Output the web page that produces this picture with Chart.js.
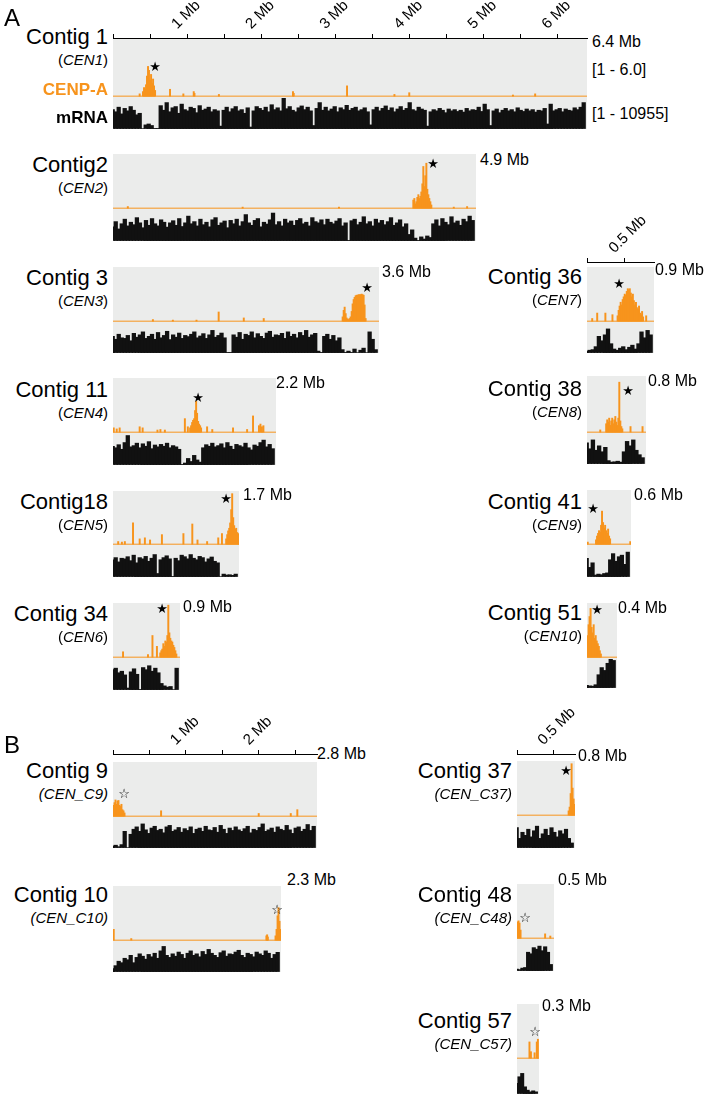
<!DOCTYPE html>
<html><head><meta charset="utf-8">
<script src="https://cdn.jsdelivr.net/npm/chart.js@4.4.0/dist/chart.umd.min.js"></script>
<style>
html,body{margin:0;padding:0;background:#fff;}
#fig{position:relative;width:705px;height:1094px;overflow:hidden;font-family:"Liberation Sans",Arial,sans-serif;color:#000;}
.bg{position:absolute;background:#ebeceb;}
canvas{position:absolute;}
.t{position:absolute;white-space:nowrap;line-height:1;}
</style></head>
<body><div id="fig"></div>
<script>
// ---------------- DATA ----------------
const contigNames = ['Contig 1','Contig2','Contig 3','Contig 11','Contig18','Contig 34','Contig 36','Contig 38','Contig 41','Contig 51','Contig 9','Contig 10','Contig 37','Contig 48','Contig 57'];
const cenNames = ['CEN1','CEN2','CEN3','CEN4','CEN5','CEN6','CEN7','CEN8','CEN9','CEN10','CEN_C9','CEN_C10','CEN_C37','CEN_C48','CEN_C57'];
const contigLengthsMb = [6.4,4.9,3.6,2.2,1.7,0.9,0.9,0.8,0.6,0.4,2.8,2.3,0.8,0.5,0.3];
const sizeLabels = ['6.4 Mb','4.9 Mb','3.6 Mb','2.2 Mb','1.7 Mb','0.9 Mb','0.9 Mb','0.8 Mb','0.6 Mb','0.4 Mb','2.8 Mb','2.3 Mb','0.8 Mb','0.5 Mb','0.3 Mb'];
const solidStar = [true,true,true,true,true,true,true,true,true,true,false,false,true,false,false];

// CENP-A signal: [position Mb, % of track height]
const cenpaC1 = [[0.36,4],[0.405,8],[0.419,15],[0.432,12],[0.446,20],[0.459,35],[0.473,52],[0.486,45],[0.500,28],[0.514,38],[0.527,22],[0.541,30],[0.554,18],[0.568,10],[0.77,12],[0.95,4],[1.09,8],[1.10,5],[1.43,3],[2.43,8],[2.44,5],[3.16,18],[3.80,3],[4.00,6],[5.40,2],[5.70,4]];
const cenpaC2 = [[0.2,3],[1.75,2],[3.05,2],[4.054,15],[4.068,18],[4.081,8],[4.095,12],[4.108,20],[4.122,25],[4.135,18],[4.149,22],[4.162,30],[4.176,45],[4.189,77],[4.203,40],[4.216,60],[4.230,83],[4.243,35],[4.257,25],[4.270,18],[4.284,12],[4.297,6],[4.6,2],[4.78,3]];
const cenpaC3 = [[0.54,3],[0.81,2],[1.13,2],[1.43,17],[1.77,6],[2.04,5],[3.108,8],[3.122,20],[3.135,26],[3.149,14],[3.162,6],[3.176,4],[3.189,3],[3.203,5],[3.216,8],[3.230,18],[3.243,32],[3.257,40],[3.270,44],[3.284,47],[3.297,48],[3.311,48],[3.324,49],[3.338,49],[3.351,49],[3.365,50],[3.378,49],[3.392,48],[3.405,30],[3.419,5]];
const cenpaC11 = [[0.01,8],[0.05,6],[0.09,8],[0.36,10],[0.40,8],[0.60,4],[0.64,5],[0.70,4],[0.97,25],[1.01,10],[1.041,8],[1.054,12],[1.068,18],[1.081,22],[1.095,25],[1.108,40],[1.122,57],[1.135,35],[1.149,20],[1.162,15],[1.176,12],[1.189,8],[1.27,10],[1.34,5],[1.62,8],[1.81,5],[1.89,30],[1.97,12],[1.99,15],[2.01,10],[2.03,12]];
const cenpaC18 = [[0.07,5],[0.12,4],[0.16,5],[0.27,40],[0.36,10],[0.43,12],[0.50,8],[0.66,18],[0.95,20],[1.07,38],[1.14,8],[1.27,5],[1.42,12],[1.47,20],[1.527,10],[1.541,18],[1.554,25],[1.568,30],[1.581,40],[1.595,65],[1.608,95],[1.622,50],[1.635,35],[1.649,28],[1.662,30],[1.676,22],[1.689,20],[1.697,15]];
const cenpaC34 = [[0.135,10],[0.47,5],[0.53,40],[0.59,20],[0.635,8],[0.649,12],[0.662,15],[0.676,25],[0.689,20],[0.703,30],[0.716,28],[0.730,40],[0.743,96],[0.757,45],[0.770,35],[0.784,30],[0.797,28],[0.811,22],[0.824,18],[0.838,12],[0.851,6]];
const cenpaC36 = [[0.07,5],[0.137,15],[0.247,15],[0.342,12],[0.411,10],[0.425,20],[0.438,28],[0.452,35],[0.466,30],[0.479,40],[0.493,45],[0.507,50],[0.521,48],[0.534,55],[0.548,60],[0.562,58],[0.575,60],[0.589,52],[0.603,45],[0.616,50],[0.630,38],[0.644,30],[0.658,35],[0.671,25],[0.685,22],[0.699,28],[0.712,15],[0.726,12],[0.740,18],[0.753,8],[0.795,10]];
const cenpaC38 = [[0.18,4],[0.260,15],[0.274,22],[0.288,18],[0.301,25],[0.315,12],[0.329,20],[0.342,25],[0.356,15],[0.370,22],[0.384,28],[0.397,18],[0.411,12],[0.425,25],[0.438,89],[0.452,20],[0.466,10],[0.479,6],[0.59,10],[0.753,10]];
const cenpaC41 = [[0.01,4],[0.123,8],[0.137,15],[0.151,20],[0.164,25],[0.178,22],[0.192,35],[0.205,61],[0.219,40],[0.233,30],[0.247,35],[0.260,25],[0.274,20],[0.288,28],[0.301,15],[0.315,10],[0.59,5]];
const cenpaC51 = [[0.007,40],[0.021,60],[0.034,75],[0.048,90],[0.062,55],[0.075,45],[0.089,60],[0.103,35],[0.116,40],[0.130,30],[0.144,25],[0.158,20],[0.171,12],[0.185,6]];
const cenpaC9 = [[0.007,20],[0.021,25],[0.034,30],[0.048,22],[0.062,28],[0.075,29],[0.089,20],[0.103,18],[0.116,22],[0.130,12],[0.144,10],[0.158,6],[0.66,10],[2.00,5],[2.44,5],[2.53,12]];
const cenpaC10 = [[0.01,20],[0.25,3],[2.10,8],[2.11,10],[2.12,6],[2.225,8],[2.239,20],[2.253,45],[2.266,60],[2.280,35],[2.294,20]];
const cenpaC37 = [[0.712,8],[0.726,15],[0.740,40],[0.753,95],[0.767,50],[0.781,30],[0.795,20]];
const cenpaC48 = [[0.007,30],[0.021,32],[0.034,28],[0.048,15],[0.38,8],[0.45,4]];
const cenpaC57 = [[0.17,30],[0.19,12],[0.24,10],[0.27,30],[0.285,35]];

// mRNA coverage: % of track height, evenly spaced bins along each contig
const mrnaC1 = [62,55,70,48,66,58,72,60,45,50,0,12,15,10,0,0,75,60,85,55,68,72,50,80,62,58,70,66,52,75,60,64,70,55,62,58,8,60,70,55,65,72,58,62,50,68,5,58,72,66,60,70,55,78,62,68,58,100,65,72,60,55,68,74,62,70,58,10,66,85,60,70,58,64,72,55,68,62,76,60,66,70,58,62,68,55,12,62,70,58,66,74,60,68,55,64,72,60,66,85,62,58,70,64,60,8,55,62,58,66,60,52,64,58,62,56,60,54,66,58,62,60,70,56,80,62,10,58,64,52,60,66,58,62,55,68,60,56,64,58,62,54,60,58,66,15,80,58,62,66,55,64,60,58,68,62,70,85];
const mrnaC2 = [45,62,38,55,70,48,60,52,75,58,42,66,50,72,55,48,68,60,44,58,65,50,72,46,58,80,55,62,48,70,52,60,45,68,75,50,58,64,42,66,55,70,48,62,85,58,50,66,72,45,60,54,68,90,52,62,48,70,58,64,50,66,72,55,60,48,75,62,58,68,52,70,60,55,64,72,48,58,0,65,70,52,60,78,55,62,48,70,58,66,52,62,75,50,58,68,45,55,20,35,8,0,12,5,15,10,55,68,48,72,60,52,78,58,64,50,70,62,80,66];
const mrnaC3 = [55,45,62,50,48,58,40,65,52,60,70,48,55,62,45,68,50,58,72,44,60,52,66,48,58,54,62,70,50,56,64,48,60,75,52,58,66,50,0,0,60,52,68,45,62,58,70,50,64,55,48,66,72,52,60,58,65,48,70,55,62,50,68,58,75,52,60,65,5,0,55,62,45,58,40,50,10,0,5,0,12,0,8,15,0,70,45,10];
const mrnaC11 = [60,55,65,50,72,95,58,62,70,55,68,60,75,52,64,58,66,60,70,55,62,58,50,0,5,20,10,30,15,8,55,65,60,70,58,62,68,55,72,60,50,66,62,58,70,55,48,64,60,72,80,58,66,52];
const mrnaC18 = [55,62,48,60,58,65,52,70,45,62,58,66,50,60,72,10,55,62,68,58,0,60,52,70,65,58,72,60,55,66,62,48,58,64,50,45,0,8,5,6,4,8];
const mrnaC34 = [65,70,55,60,48,5,58,68,50,0,72,65,78,60,70,55,20,12,8,10,0,70];
const mrnaC36 = [5,8,10,20,55,40,60,80,30,12,8,15,20,10,18,25,12,30,70,50,75,60];
const mrnaC38 = [70,50,80,45,60,40,55,10,5,6,8,5,40,75,60,80,45,30,20];
const mrnaC41 = [60,30,45,5,8,6,10,12,55,75,50,65,70,40,80];
const mrnaC51 = [8,6,5,10,45,70,60,85,100,95];
const mrnaC9 = [5,8,3,10,55,0,45,62,70,55,80,60,48,66,72,58,62,50,70,75,55,60,68,52,64,58,70,48,62,66,55,72,60,58,68,52,75,62,48,66,58,70,60,55,64,72,50,62,58,68,80,55,60,66,52,70,62,58,75,60,48,66,70,55,62,78,58,72];
const mrnaC10 = [10,20,35,30,45,40,55,30,48,60,52,42,58,50,62,45,70,85,55,48,60,52,66,58,45,62,70,55,60,50,68,58,75,62,55,48,64,70,52,60,58,66,72,55,48,62,58,50,66,60,55,70,62,45,58,65];
const mrnaC37 = [65,30,50,40,60,35,55,70,30,45,60,40,65,50,35,55,45,60,30,15];
const mrnaC48 = [5,3,8,10,60,55,75,70,80,65,78,60,20];
const mrnaC57 = [30,50,60,20,10,5,8,5];

// ruler ticks (Mb) and their labels
const rulerA1Ticks = [0,0.5,1,1.5,2,2.5,3,3.5,4,4.5,5,5.5,6];
const rulerA1Labels = ['','','1 Mb','','2 Mb','','3 Mb','','4 Mb','','5 Mb','','6 Mb'];
const rulerA36Ticks = [0,0.5];
const rulerA36Labels = ['','0.5 Mb'];
const rulerB9Ticks = [0,0.5,1,1.5,2,2.5];
const rulerB9Labels = ['','','1 Mb','','2 Mb',''];
const rulerB37Ticks = [0,0.5];
const rulerB37Labels = ['','0.5 Mb'];

const cenpaAll = [cenpaC1,cenpaC2,cenpaC3,cenpaC11,cenpaC18,cenpaC34,cenpaC36,cenpaC38,cenpaC41,cenpaC51,cenpaC9,cenpaC10,cenpaC37,cenpaC48,cenpaC57];
const mrnaAll = [mrnaC1,mrnaC2,mrnaC3,mrnaC11,mrnaC18,mrnaC34,mrnaC36,mrnaC38,mrnaC41,mrnaC51,mrnaC9,mrnaC10,mrnaC37,mrnaC48,mrnaC57];

// ---------------- LAYOUT ----------------
const layout = [
 {left:113,top:39, base:96, bottom:129,ppm:74,lx:108,ly:37, sx:592,sy:42, stx:155,sty:66},
 {left:113,top:154,base:208,bottom:241,ppm:74,lx:108,ly:165,sx:480,sy:160,stx:433,sty:163},
 {left:113,top:267,base:321,bottom:353,ppm:74,lx:108,ly:278,sx:382,sy:272,stx:367,sty:287},
 {left:113,top:378,base:432,bottom:465,ppm:74,lx:108,ly:390,sx:276,sy:383,stx:198,sty:397},
 {left:113,top:491,base:544,bottom:577,ppm:74,lx:108,ly:502,sx:243,sy:495,stx:226,sty:498},
 {left:113,top:603,base:657,bottom:690,ppm:74,lx:108,ly:614,sx:183,sy:607,stx:162,sty:608},
 {left:587,top:267,base:321,bottom:353,ppm:74,lx:582,ly:277,sx:655,sy:270,stx:619,sty:283},
 {left:587,top:376,base:432,bottom:464,ppm:74,lx:582,ly:389,sx:648,sy:381,stx:628,sty:390},
 {left:587,top:490,base:544,bottom:577,ppm:74,lx:582,ly:502,sx:634,sy:495,stx:593,sty:508},
 {left:587,top:603,base:657,bottom:688,ppm:74,lx:582,ly:613,sx:618,sy:608,stx:597,sty:609},
 {left:113,top:762,base:816,bottom:848,ppm:73,lx:108,ly:771,sx:317,sy:754,stx:124,sty:793},
 {left:113,top:886,base:940,bottom:972,ppm:73,lx:108,ly:895,sx:287,sy:880,stx:277,sty:909},
 {left:517,top:761,base:815,bottom:848,ppm:73,lx:512,ly:771,sx:578,sy:756,stx:566,sty:770},
 {left:517,top:884,base:938,bottom:971,ppm:73,lx:512,ly:895,sx:558,sy:880,stx:525,sty:917},
 {left:517,top:1004,base:1058,bottom:1094,ppm:73,lx:512,ly:1021,sx:542,sy:1006,stx:535,sty:1031}
];
const rulers = [
 {idx:0, axisY:38, ticks:rulerA1Ticks, labels:rulerA1Labels},
 {idx:6, axisY:262, ticks:rulerA36Ticks, labels:rulerA36Labels},
 {idx:10, axisY:754, ticks:rulerB9Ticks, labels:rulerB9Labels},
 {idx:12, axisY:754, ticks:rulerB37Ticks, labels:rulerB37Labels}
];

// ---------------- DRAW ----------------
const ORANGE = '#F7941D';
const FONT = '"Liberation Sans", Arial, sans-serif';
Chart.defaults.font.family = FONT;
const fig = document.getElementById('fig');

function box(cls, x, y, w, h) {
  const d = document.createElement('div'); d.className = cls;
  Object.assign(d.style, {left:x+'px', top:y+'px', width:w+'px', height:h+'px'});
  fig.appendChild(d); return d;
}
function canvas(x, y, w, h) {
  const c = document.createElement('canvas');
  c.width = w; c.height = h;
  Object.assign(c.style, {left:x+'px', top:y+'px', width:w+'px', height:h+'px'});
  fig.appendChild(c); return c;
}
function text(html, x, cy, size, o = {}) {
  const d = document.createElement('div'); d.className = 't';
  d.innerHTML = html;
  d.style.fontSize = size + 'px';
  d.style.top = (cy - size / 2) + 'px';
  if (o.align === 'right') d.style.right = (705 - x) + 'px';
  else if (o.align === 'center') { d.style.left = x + 'px'; d.style.transform = 'translateX(-50%)'; }
  else d.style.left = x + 'px';
  if (o.bold) d.style.fontWeight = 'bold';
  if (o.color) d.style.color = o.color;
  if (o.family) d.style.fontFamily = o.family;
  fig.appendChild(d); return d;
}
const baseOpts = () => ({
  responsive:false, maintainAspectRatio:false, animation:false, events:[], devicePixelRatio:1,
  plugins:{legend:{display:false}, tooltip:{enabled:false}}, layout:{padding:0}
});

contigLengthsMb.forEach((len, i) => {
  const L = layout[i];
  const w = Math.round(len * L.ppm);
  box('bg', L.left, L.top, w, L.bottom - L.top);

  // CENP-A track
  const ch = L.base - L.top + 1;
  new Chart(canvas(L.left, L.top, w, ch), {
    type:'bar',
    data:{datasets:[
      {type:'line', data:[{x:0,y:0},{x:len,y:0}], borderColor:ORANGE, borderWidth:1, pointRadius:0, order:1},
      {type:'bar', data:cenpaAll[i].map(d => ({x:d[0], y:d[1]})), backgroundColor:ORANGE, barThickness:1.3, borderWidth:0, order:0}
    ]},
    options:Object.assign(baseOpts(), {scales:{
      x:{type:'linear', min:0, max:len, display:false, offset:false},
      y:{min:-1.5, max:100, display:false}
    }})
  });

  // mRNA track
  const mt = L.base + 2, mh = L.bottom - mt;
  const m = mrnaAll[i];
  new Chart(canvas(L.left, mt, w, mh), {
    type:'bar',
    data:{labels:m.map((_, k) => k), datasets:[
      {type:'bar', data:m, backgroundColor:'#111', barThickness:w / m.length + 0.6, borderWidth:0, order:0},
      {type:'line', xAxisID:'x2', data:[{x:0,y:0},{x:len,y:0}], borderColor:'#555', borderWidth:1, pointRadius:0, order:1}
    ]},
    options:Object.assign(baseOpts(), {scales:{
      x:{type:'category', display:false},
      x2:{type:'linear', min:0, max:len, display:false},
      y:{min:-1.5, max:100, display:false}
    }})
  });

  // labels
  const isB = i >= 10;
  text(contigNames[i], L.lx, L.ly, 22, {align:'right'});
  text(isB ? '<i>(' + cenNames[i] + ')</i>' : '(<i>' + cenNames[i] + '</i>)', L.lx, L.ly + 22, 15, {align:'right'});
  text(sizeLabels[i], L.sx, L.sy, 16);
  text(solidStar[i] ? '★' : '☆', L.stx, L.sty, 13, {align:'center', family:'"DejaVu Sans", sans-serif'});
});

// rulers
rulers.forEach(r => {
  const L = layout[r.idx], len = contigLengthsMb[r.idx];
  const w = Math.round(len * L.ppm), pad = 40, H = 60;
  new Chart(canvas(L.left - pad, r.axisY - (H - 2), w + 2 * pad, H), {
    type:'line',
    data:{datasets:[{data:[], pointRadius:0}]},
    options:Object.assign(baseOpts(), {
      layout:{padding:{left:pad, right:pad, top:0, bottom:0}},
      scales:{
        x:{type:'linear', position:'top', min:0, max:len,
           afterBuildTicks:s => { s.ticks = r.ticks.map(v => ({value:v})); },
           afterFit:s => { s.height = H - 2; },
           ticks:{autoSkip:false, minRotation:45, maxRotation:45, padding:1, color:'#000',
                  font:{family:FONT, size:15}, callback:(v, k) => r.labels[k]},
           grid:{drawOnChartArea:false, drawTicks:true, tickLength:4, color:'#000', lineWidth:1},
           border:{display:true, color:'#000', width:1}},
        y:{display:false}
      }
    })
  });
});

// section + track labels
text('A', 4, 18, 24);
text('B', 4, 745, 24);
text('CENP-A', 108, 89, 17, {align:'right', bold:true, color:ORANGE});
text('mRNA', 108, 117, 17, {align:'right', bold:true});
text('[1 - 6.0]', 592, 70, 16);
text('[1 - 10955]', 592, 114, 16);
</script>
</body></html>
